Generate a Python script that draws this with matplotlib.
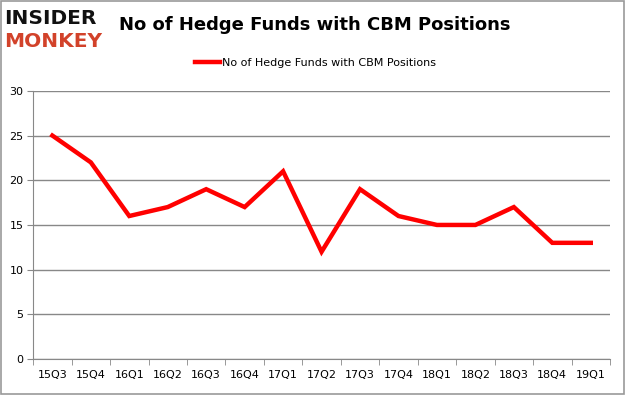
import matplotlib.pyplot as plt
from matplotlib.patches import Rectangle

quarters = ['15Q3', '15Q4', '16Q1', '16Q2', '16Q3', '16Q4', '17Q1', '17Q2',
            '17Q3', '17Q4', '18Q1', '18Q2', '18Q3', '18Q4', '19Q1']
funds = [25, 22, 16, 17, 19, 17, 21, 12, 19, 16, 15, 15, 17, 13, 13]
yticks = [0, 5, 10, 15, 20, 25, 30]

fig = plt.figure(figsize=(6.25, 3.95), dpi=100)
ax = fig.add_axes([0.053, 0.091, 0.923, 0.679])

x = list(range(len(quarters)))
ax.plot(x, funds, color='#ff0000', lw=3.2, solid_joinstyle='miter',
        label='No of Hedge Funds with CBM Positions')

ax.set_xlim(-0.5, len(quarters) - 0.5)
ax.set_ylim(0, 30)
ax.set_yticks(yticks)
ax.set_xticks(x)
ax.set_xticklabels(quarters)
ax.set_xticks([i - 0.5 for i in range(len(quarters) + 1)], minor=True)
ax.tick_params(axis='x', which='major', length=0, pad=8, labelsize=8)
ax.tick_params(axis='x', which='minor', length=4, color='#888888')
ax.tick_params(axis='y', length=4, color='#888888', labelsize=8, pad=3)
ax.grid(axis='y', color='#888888', lw=1)
ax.set_axisbelow(True)
for s in ['top', 'right']:
    ax.spines[s].set_visible(False)
for s in ['left', 'bottom']:
    ax.spines[s].set_color('#888888')

fig.text(0.503, 0.937, 'No of Hedge Funds with CBM Positions', ha='center',
         va='center', fontsize=13, fontweight='bold')
fig.text(0.006, 0.952, 'INSIDER', fontsize=14.5, fontweight='black',
         color='#111111', va='center', ha='left')
fig.text(0.006, 0.895, 'MONKEY', fontsize=14.5, fontweight='black',
         color='#d2422a', va='center', ha='left')

ax.legend(loc='center', bbox_to_anchor=(0.49, 1.105), frameon=False,
          fontsize=8, handlelength=2.2, handletextpad=0.2)

fig.patches.append(Rectangle((0.001, 0.002), 0.997, 0.995, transform=fig.transFigure,
                             fill=False, edgecolor='#999999', lw=1.2))

fig.savefig('out.png', dpi=100)
